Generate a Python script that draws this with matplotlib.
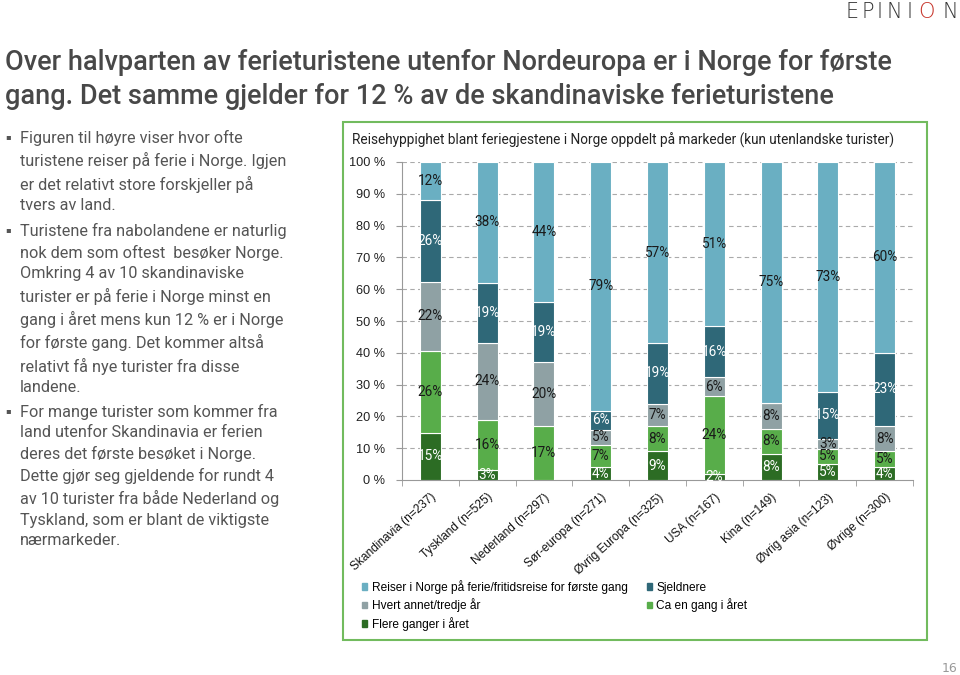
import numpy as np
import matplotlib
matplotlib.use("Agg")
import matplotlib.pyplot as plt
from matplotlib.patches import Patch, Rectangle

# data, bottom to top of each stack
markets = ["Skandinavia (n=237)", "Tyskland (n=525)", "Nederland (n=297)",
           "Sør-europa (n=271)", "Øvrig Europa (n=325)", "USA (n=167)",
           "Kina (n=149)", "Øvrig asia (n=123)", "Øvrige (n=300)"]
series = ["Flere ganger i året", "Ca en gang i året", "Hvert annet/tredje år",
          "Sjeldnere", "Reiser i Norge på ferie/fritidsreise for første gang"]
flere = [15, 3, 0, 4, 9, 2, 8, 5, 4]
ca_en = [26, 16, 17, 7, 8, 24, 8, 5, 5]
hvert = [22, 24, 20, 5, 7, 6, 8, 3, 8]
sjeldnere = [26, 19, 19, 6, 19, 16, 0, 15, 23]
forste = [12, 38, 44, 79, 57, 51, 75, 73, 60]
colors = ["#2c6c24", "#58ad4a", "#8fa1a4", "#2f6878", "#6aafc2"]
label_colors = ["white", "#1a1a1a", "#1a1a1a", "white", "#1a1a1a"]

title = ("Over halvparten av ferieturistene utenfor Nordeuropa er i Norge for første\n"
         "gang. Det samme gjelder for 12 % av de skandinaviske ferieturistene")
chart_title = "Reisehyppighet blant feriegjestene i Norge oppdelt på markeder (kun utenlandske turister)"
bullets = [
    "Figuren til høyre viser hvor ofte\nturistene reiser på ferie i Norge. Igjen\ner det relativt store forskjeller på\ntvers av land.",
    "Turistene fra nabolandene er naturlig\nnok dem som oftest  besøker Norge.\nOmkring 4 av 10 skandinaviske\nturister er på ferie i Norge minst en\ngang i året mens kun 12 % er i Norge\nfor første gang. Det kommer altså\nrelativt få nye turister fra disse\nlandene.",
    "For mange turister som kommer fra\nland utenfor Skandinavia er ferien\nderes det første besøket i Norge.\nDette gjør seg gjeldende for rundt 4\nav 10 turister fra både Nederland og\nTyskland, som er blant de viktigste\nnærmarkeder.",
]

W, H = 960, 675
fig = plt.figure(figsize=(9.6, 6.75), dpi=100)
fig.patch.set_facecolor("white")

def fx(px):
    return px / W

def fy(py):
    return 1 - py / H

# heading and left text
fig.text(fx(5), fy(49), title, fontsize=19.5, color="#484848", family="Roboto",
         fontweight="medium", va="top", ha="left", linespacing=1.32)
y_starts = [137, 230, 411]
for yb, txt in zip(y_starts, bullets):
    fig.text(fx(5), fy(yb), "▪", fontsize=6, color="#555555", va="center", ha="left")
    fig.text(fx(20), fy(yb - 7), txt, fontsize=11.7, color="#555555", family="Roboto",
             va="top", ha="left", linespacing=1.45)

# logo and page number
logo = "EPINION"
logo_x = [852, 868, 880, 894, 910, 926, 950]
for ch, x in zip(logo, logo_x):
    fig.text(fx(x), fy(12), ch, fontsize=15, color="#c8372d" if x == 926 else "#333333",
             family="DejaVu Sans", fontweight="light", ha="center", va="center")
fig.text(fx(957), fy(668), "16", fontsize=9, color="#999999", ha="right", va="center")

# chart frame
fig.patches.append(Rectangle((fx(343), fy(640)), fx(927) - fx(343), fy(122) - fy(640),
                             transform=fig.transFigure, fill=False,
                             edgecolor="#72bb5e", linewidth=1.5))
fig.text(fx(352), fy(140), chart_title, fontsize=9.8, color="#222222", family="Roboto",
         ha="left", va="center")

ax = fig.add_axes([fx(402), fy(480), fx(913) - fx(402), fy(162) - fy(480)])
data = np.array([flere, ca_en, hvert, sjeldnere, forste], dtype=float)
share = data / data.sum(axis=0) * 100
x = np.arange(len(markets))
bottom = np.zeros(len(markets))
for i in range(len(series)):
    ax.bar(x, share[i], 0.37, bottom=bottom, color=colors[i],
           edgecolor="white", linewidth=0.8, label=series[i], zorder=3)
    for j in range(len(markets)):
        if data[i, j] > 0:
            ax.text(x[j], bottom[j] + share[i, j] / 2, f"{int(data[i, j])}%",
                    ha="center", va="center", fontsize=9.8, family="Roboto",
                    color=label_colors[i], zorder=4)
    bottom += share[i]

ax.set_xlim(-0.5, len(markets) - 0.5)
ax.set_ylim(0, 100)
ax.set_yticks(np.arange(0, 101, 10))
ax.set_yticklabels([f"{v} %" for v in range(0, 101, 10)], fontsize=9.2,
                   family="Liberation Sans", color="#222222")
ax.set_xticks(x)
ax.set_xticklabels(markets, rotation=42, ha="right", rotation_mode="anchor",
                   fontsize=8.6, family="Liberation Sans", color="#111111")
ax.set_xticks(np.arange(-0.5, len(markets), 1), minor=True)
ax.tick_params(axis="x", which="major", length=0, pad=8)
ax.tick_params(axis="x", which="minor", length=4, color="#999999")
ax.tick_params(axis="y", length=4, color="#999999", pad=8)
for v in range(10, 101, 10):
    ax.axhline(v, color="#aaaaaa", linestyle=(0, (4, 3)), linewidth=0.8, zorder=1)
for s in ["top", "right"]:
    ax.spines[s].set_visible(False)
for s in ["left", "bottom"]:
    ax.spines[s].set_color("#999999")

handles = [Patch(color=colors[k]) for k in [4, 2, 0, 3, 1]]
names = [series[k] for k in [4, 2, 0, 3, 1]]
fig.legend(handles, names, loc="upper left", bbox_to_anchor=(fx(356), fy(574)),
           ncol=2, frameon=False, prop={"family": "Liberation Sans", "size": 8.6},
           handlelength=0.45, handleheight=0.45, handletextpad=0.35, columnspacing=1.6,
           labelspacing=0.38, borderpad=0)

fig.savefig("out.png", dpi=100, facecolor="white")
